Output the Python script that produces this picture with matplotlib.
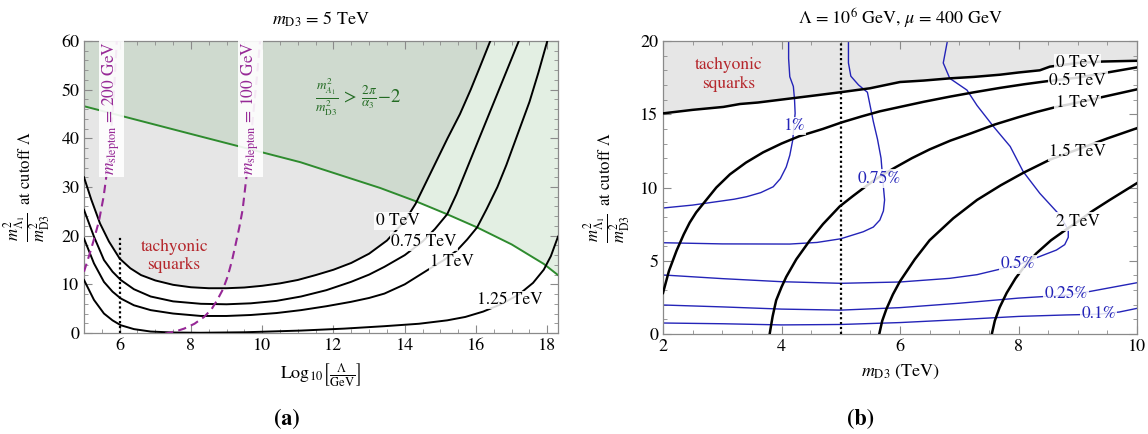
import numpy as np
import matplotlib.pyplot as plt
from matplotlib.patches import Polygon
from matplotlib.ticker import MultipleLocator

plt.rcParams['font.family'] = 'STIXGeneral'
plt.rcParams['mathtext.fontset'] = 'stix'

# ---------------- panel (a): m_D3 = 5 TeV ----------------
# contours of the squark mass condition, labelled by mu
a0_x = [5.0, 5.2, 5.45, 5.7, 6.0, 6.3, 6.6, 7.0, 7.5, 8.0, 8.5, 9.0, 9.5, 10.0, 10.5, 11.0, 11.5, 12.0,
        12.5, 13.0, 13.5, 14.0, 14.3, 14.6, 14.9, 15.2, 15.55, 15.85, 16.1, 16.4]
a0_y = [32.0, 27.5, 22.5, 18.8, 15.3, 13.3, 11.9, 10.8, 9.9, 9.4, 9.2, 9.2, 9.35, 9.7, 10.2, 10.9, 11.9, 13.0,
        14.4, 16.3, 19.0, 23.0, 26.5, 31.0, 35.5, 40.0, 45.0, 50.0, 54.5, 60.0]
a075_x = [5.0, 5.28, 5.56, 5.8, 6.03, 6.4, 6.87, 7.5, 8.28, 9.0, 9.68, 10.4, 11.09, 11.8, 12.49, 13.0,
          13.43, 14.0, 14.5, 14.85, 15.19, 15.45, 15.7, 15.95, 16.2, 16.45, 16.7, 16.95, 17.2]
a075_y = [25.3, 19.8, 15.0, 12.6, 10.9, 9.0, 7.5, 6.5, 6.0, 5.9, 6.1, 6.6, 7.5, 8.8, 10.5, 12.0,
          13.6, 16.0, 18.8, 21.4, 24.4, 28.5, 33.0, 37.5, 42.0, 46.5, 51.0, 55.5, 60.0]
a1_x = [5.0, 5.28, 5.56, 5.8, 6.03, 6.4, 6.87, 7.5, 8.28, 9.0, 9.68, 10.4, 11.09, 11.8, 12.49, 13.0, 13.43,
        14.0, 14.72, 15.1, 15.47, 15.75, 16.03, 16.3, 16.6, 16.85, 17.1, 17.3, 17.5, 17.75, 18.0]
a1_y = [19.4, 14.3, 10.5, 8.5, 7.1, 5.7, 4.7, 4.0, 3.5, 3.5, 3.7, 4.1, 4.7, 5.5, 6.4, 7.2, 8.1,
        10.0, 13.3, 15.0, 17.0, 19.2, 21.7, 25.5, 30.0, 34.5, 39.5, 43.5, 47.5, 53.5, 60.0]
a125_x = [5.0, 5.28, 5.56, 5.8, 6.03, 6.4, 6.87, 7.5, 8.28, 9.5, 11.09, 12.3, 13.43, 14.4, 15.19, 15.7,
          16.2, 16.7, 17.2, 17.6, 17.9, 18.1, 18.3]
a125_y = [10.9, 6.8, 4.0, 2.6, 1.6, 0.8, 0.3, 0.1, 0.05, 0.15, 0.5, 0.9, 1.4, 1.9, 2.6, 3.3,
          4.4, 5.9, 7.9, 10.3, 13.0, 15.8, 19.8]
a_labels = ["0 TeV", "0.75 TeV", "1 TeV", "1.25 TeV"]
a_label_x = [13.8, 14.54, 15.33, 16.94]
a_label_y = [23.0, 18.75, 14.6, 6.8]

# perturbativity bound
green_x = [5.0, 8.0, 11.07, 13.31, 14.3, 15.19, 16.03, 17.0, 17.9, 18.3]
green_y = [46.6, 40.9, 35.1, 29.8, 27.1, 24.4, 21.7, 18.2, 14.2, 11.9]

# slepton mass contours
sl200_x = [5.0, 5.1, 5.19, 5.3, 5.42, 5.55, 5.66, 5.73, 5.8, 5.86, 5.92]
sl200_y = [12.6, 14.9, 17.0, 19.8, 23.0, 28.0, 34.0, 39.0, 45.0, 52.0, 60.0]
sl100_x = [6.9, 7.3, 7.6, 7.81, 8.1, 8.37, 8.58, 8.74, 8.9, 9.03, 9.15, 9.26, 9.36, 9.45, 9.57, 9.66, 9.75, 9.85, 9.94]
sl100_y = [-0.6, -0.1, 0.4, 0.9, 1.9, 3.3, 4.9, 6.8, 9.0, 11.6, 14.8, 18.4, 21.8, 25.3, 32.8, 38.5, 45.0, 52.5, 60.0]

# ---------------- panel (b): Lambda = 1e6 GeV ----------------
b0_x = [2.0, 2.5, 3.02, 3.3, 3.6, 4.2, 4.6, 4.99, 5.49, 6.0, 6.4, 6.84, 7.25, 7.69, 8.0, 8.36, 8.53, 9.0, 9.43, 10.0]
b0_y = [15.06, 15.3, 15.5, 15.7, 15.8, 16.1, 16.3, 16.5, 16.77, 17.2, 17.3, 17.45, 17.55, 17.7, 17.85, 18.0, 18.25, 18.5, 18.6, 18.65]
b05_x = [2.0, 2.1, 2.23, 2.35, 2.45, 2.56, 2.68, 2.9, 3.13, 3.4, 3.69, 4.0, 4.3, 4.7, 5.02, 5.35, 5.66,
         6.0, 6.4, 6.84, 7.25, 7.69, 8.1, 8.47, 9.0, 9.5, 10.0]
b05_y = [2.8, 4.3, 5.7, 6.8, 7.6, 8.3, 8.9, 10.0, 10.9, 11.7, 12.4, 13.0, 13.5, 14.0, 14.45, 14.85, 15.2,
         15.5, 15.85, 16.2, 16.5, 16.8, 17.05, 17.25, 17.5, 17.85, 18.2]
b1_x = [3.8, 3.85, 3.91, 4.0, 4.08, 4.25, 4.48, 4.7, 4.98, 5.2, 5.38, 5.6, 5.89, 6.2, 6.5, 6.85, 7.2,
        7.6, 8.0, 8.3, 8.59, 9.0, 9.5, 10.0]
b1_y = [0.0, 1.2, 2.3, 3.2, 3.9, 5.1, 6.4, 7.5, 8.7, 9.4, 9.95, 10.6, 11.3, 12.0, 12.6, 13.2, 13.7,
        14.3, 14.8, 15.15, 15.45, 15.8, 16.25, 16.7]
b15_x = [5.65, 5.7, 5.77, 5.88, 6.0, 6.25, 6.5, 6.9, 7.3, 7.7, 8.08, 8.53, 9.0, 9.5, 10.0]
b15_y = [0.0, 0.9, 1.7, 2.7, 3.6, 5.1, 6.4, 7.9, 9.15, 10.15, 11.0, 11.9, 12.6, 13.35, 14.05]
b2_x = [7.55, 7.6, 7.68, 7.8, 7.95, 8.08, 8.3, 8.55, 8.81, 9.0, 9.25, 9.54, 9.8, 10.0]
b2_y = [0.0, 0.9, 1.8, 2.8, 3.8, 4.5, 5.5, 6.4, 7.15, 7.67, 8.4, 9.15, 9.8, 10.3]
b_labels = ["0 TeV", "0.5 TeV", "1 TeV", "1.5 TeV", "2 TeV"]
b_label_x = [9.0, 9.0, 9.0, 9.0, 9.0]
b_label_y = [18.5, 17.3, 15.75, 12.44, 7.67]

# fine-tuning contours (percent)
p1_x = [2.0, 2.5, 2.85, 3.2, 3.41, 3.65, 3.86, 3.98, 4.08, 4.14, 4.19, 4.21, 4.23, 4.22, 4.2, 4.14, 4.12, 4.12]
p1_y = [8.6, 8.8, 9.0, 9.2, 9.37, 9.65, 10.05, 10.6, 11.4, 12.2, 13.24, 14.2, 15.06, 16.0, 16.9, 17.56, 18.8, 20.0]
p075_x = [2.0, 3.0, 4.14, 4.6, 5.0, 5.38, 5.55, 5.66, 5.72, 5.74, 5.71, 5.68, 5.62, 5.55, 5.5, 5.45, 5.3,
          5.17, 5.13, 5.13]
p075_y = [6.23, 6.15, 6.14, 6.25, 6.5, 6.98, 7.3, 7.78, 8.4, 9.15, 10.5, 12.0, 13.3, 14.5, 15.5, 16.5, 17.0,
          17.6, 18.5, 20.0]
p05_x = [2.0, 3.0, 4.0, 5.0, 6.0, 6.84, 7.3, 7.63, 7.99, 8.3, 8.64, 8.78, 8.84, 8.84, 8.7, 8.36, 8.08, 7.86,
         7.58, 7.3, 7.13, 6.84, 6.73, 6.8]
p05_y = [4.03, 3.78, 3.57, 3.46, 3.55, 3.8, 4.05, 4.37, 4.71, 5.2, 5.73, 6.1, 6.6, 7.1, 8.1, 9.6, 11.08, 12.8,
         14.15, 15.6, 16.65, 17.45, 18.5, 20.0]
p025_x = [2.0, 3.0, 4.0, 5.0, 6.0, 7.0, 8.0, 8.8, 9.2, 9.6, 10.0]
p025_y = [1.98, 1.85, 1.7, 1.63, 1.8, 2.1, 2.45, 2.65, 2.9, 3.2, 3.5]
p01_x = [2.0, 3.0, 4.0, 5.0, 6.0, 7.0, 8.0, 8.8, 9.35, 9.7, 10.0]
p01_y = [0.75, 0.7, 0.62, 0.65, 0.78, 0.98, 1.2, 1.3, 1.35, 1.5, 1.75]
p_labels = ["1%", "0.75%", "0.5%", "0.25%", "0.1%"]
p_label_x = [4.21, 5.65, 7.99, 8.8, 9.35]
p_label_y = [14.2, 10.6, 4.75, 2.75, 1.35]

grey_fill = '#e6e6e6'
green_fill = '#e3efe3'
both_fill = '#cfdacf'
green_line = '#2e8b2e'
purple = '#962896'
blue = '#2424b8'
red = '#b5262b'
frame_col = '#8a8a8a'
ylab = r"$\dfrac{m^2_{\Lambda_1}}{m^2_{\rm D3}}$  at cutoff $\Lambda$"

fig = plt.figure(figsize=(11.48, 4.34), dpi=100)
axa = fig.add_axes([84/1148, 1-333/434, 474/1148, 292/434])
axb = fig.add_axes([663/1148, 1-334/434, 474/1148, 293/434])


def frame(ax):
    for s in ax.spines.values():
        s.set_color(frame_col)
        s.set_linewidth(0.9)
    ax.tick_params(which='both', direction='in', top=True, right=True,
                   color=frame_col, labelcolor='black', labelsize=13)
    ax.tick_params(which='major', length=6, width=0.8)
    ax.tick_params(which='minor', length=3, width=0.6)


def tag(ax, x, y, s, color, size=12.5):
    ax.text(x, y, s, color=color, fontsize=size, ha='center', va='center', zorder=6,
            bbox=dict(boxstyle='square,pad=0.08', fc='white', ec='none', alpha=0.85))


# ---- (a)
gpoly = Polygon(list(zip(green_x, green_y)) + [(green_x[-1], 60), (green_x[0], 60)],
                closed=True, fc=green_fill, ec='none', zorder=0)
axa.add_patch(gpoly)
axa.fill_between(a0_x, a0_y, 60, color=grey_fill, lw=0, zorder=0.5)
ov = axa.fill_between(a0_x, a0_y, 60, color=both_fill, lw=0, zorder=0.6)
ov.set_clip_path(gpoly)

axa.plot(green_x, green_y, color=green_line, lw=1.4, zorder=2)
for xs, ys in [(a0_x, a0_y), (a075_x, a075_y), (a1_x, a1_y), (a125_x, a125_y)]:
    axa.plot(xs, ys, color='black', lw=1.4, zorder=3)
axa.plot(sl200_x, sl200_y, color=purple, lw=1.5, ls=(0, (4, 2.5)), zorder=3)
axa.plot(sl100_x, sl100_y, color=purple, lw=1.5, ls=(0, (4, 2.5)), zorder=3)
axa.plot([6, 6], [0, 20], color='black', lw=1.6, ls=(0, (1, 1.2)), zorder=3)

for s, x, y in zip(a_labels, a_label_x, a_label_y):
    tag(axa, x, y, s, 'black')
for s, x in [(r"$m_{\rm slepton}$ = 200 GeV", 5.76), (r"$m_{\rm slepton}$ = 100 GeV", 9.66)]:
    axa.text(x, 46.2, s, color=purple, fontsize=12.5, rotation=90, ha='center', va='center', zorder=6,
             bbox=dict(boxstyle='square,pad=0.1', fc='white', ec='none', alpha=0.9))
axa.text(7.53, 15.8, "tachyonic\nsquarks", color=red, fontsize=12.5, ha='center', va='center',
         linespacing=1.2, zorder=6)
axa.text(12.7, 48.5, r"$\frac{m^2_{A_1}}{m^2_{\rm D3}}\,>\,\frac{2\pi}{\alpha_3}\!-\!2$",
         color='#236b23', fontsize=13.5, ha='center', va='center', zorder=6)

axa.set_xlim(5, 18.3)
axa.set_ylim(0, 60)
axa.xaxis.set_minor_locator(MultipleLocator(0.5))
axa.yaxis.set_major_locator(MultipleLocator(10))
axa.yaxis.set_minor_locator(MultipleLocator(2))
frame(axa)
axa.set_xticks([6, 8, 10, 12, 14, 16, 18])
axa.set_title(r"$m_{\rm D3}$ = 5 TeV", fontsize=13, pad=12)
axa.set_xlabel(r"$\mathrm{Log}_{10}\left[\frac{\Lambda}{\mathrm{GeV}}\right]$", fontsize=13, labelpad=6)
axa.set_ylabel(ylab, fontsize=12)
axa.yaxis.set_label_coords(-0.066, 0.5)

# ---- (b)
axb.fill_between(b0_x, b0_y, 20, color=grey_fill, lw=0, zorder=0.5)
for xs, ys in [(p1_x, p1_y), (p075_x, p075_y), (p05_x, p05_y), (p025_x, p025_y), (p01_x, p01_y)]:
    axb.plot(xs, ys, color=blue, lw=1.0, zorder=2)
for xs, ys in [(b0_x, b0_y), (b05_x, b05_y), (b1_x, b1_y), (b15_x, b15_y), (b2_x, b2_y)]:
    axb.plot(xs, ys, color='black', lw=1.8, zorder=3)
axb.plot([5, 5], [0, 20], color='black', lw=1.6, ls=(0, (1, 1.2)), zorder=3)

for s, x, y in zip(b_labels, b_label_x, b_label_y):
    tag(axb, x, y, s, 'black')
for s, x, y in zip(p_labels, p_label_x, p_label_y):
    tag(axb, x, y, s, blue)
axb.text(3.11, 17.7, "tachyonic\nsquarks", color=red, fontsize=12.5, ha='center', va='center',
         linespacing=1.2, zorder=6)

axb.set_xlim(2, 10)
axb.set_ylim(0, 20)
axb.xaxis.set_major_locator(MultipleLocator(2))
axb.xaxis.set_minor_locator(MultipleLocator(0.5))
axb.yaxis.set_major_locator(MultipleLocator(5))
axb.yaxis.set_minor_locator(MultipleLocator(1))
frame(axb)
axb.set_title(r"$\Lambda$ = 10$^6$ GeV, $\mu$ = 400 GeV", fontsize=13, pad=12)
axb.set_xlabel(r"$m_{\rm D3}$ (TeV)", fontsize=13, labelpad=6)
axb.set_ylabel(ylab, fontsize=12)
axb.yaxis.set_label_coords(-0.064, 0.5)

fig.text(287/1148, 1-420/434, "(a)", fontsize=16, fontweight='bold', ha='center', va='center')
fig.text(861/1148, 1-420/434, "(b)", fontsize=16, fontweight='bold', ha='center', va='center')

fig.savefig('out.png', dpi=100)
